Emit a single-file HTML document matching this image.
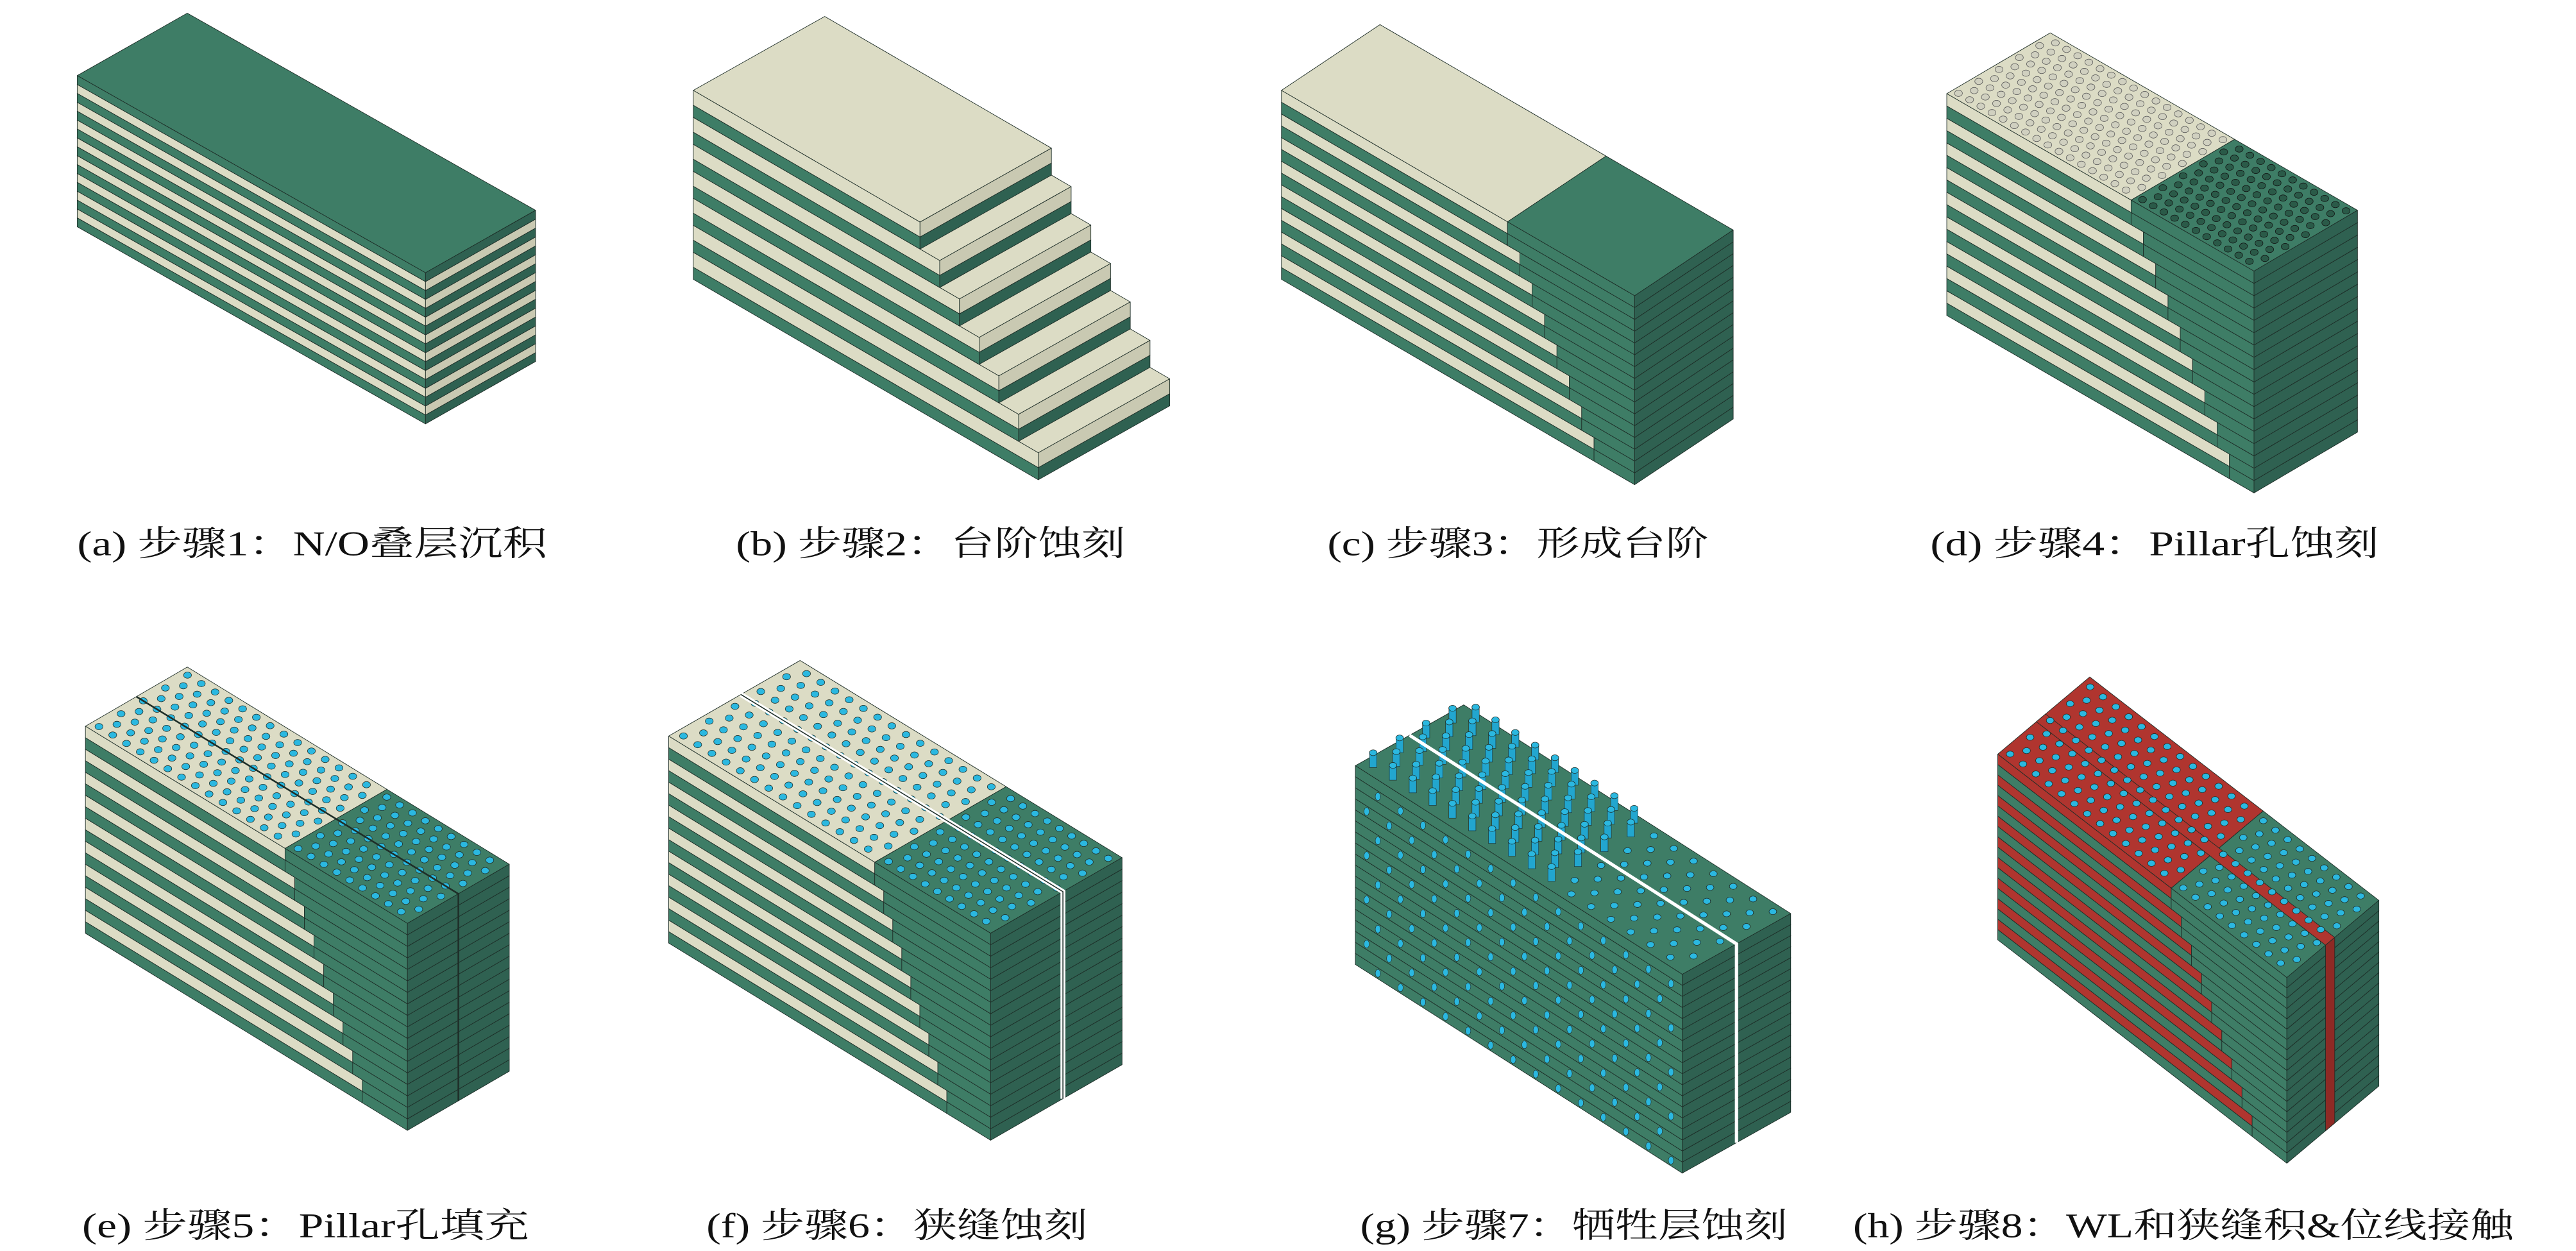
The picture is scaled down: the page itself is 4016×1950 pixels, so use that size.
<!DOCTYPE html>
<html><head><meta charset="utf-8">
<style>
html,body{margin:0;padding:0;background:#fff;}
svg{display:block;}
text{font-family:"Liberation Serif","Noto Serif CJK SC",serif;font-size:21px;fill:#111;}
</style></head>
<body>
<svg id="s" width="4016" height="1950" viewBox="0 0 1568 761.4" preserveAspectRatio="none" xmlns="http://www.w3.org/2000/svg">
<rect width="1568" height="761.4" fill="#fff"/>
<g id="g"></g>
<text x="47" y="338" textLength="286" lengthAdjust="spacingAndGlyphs">(a) 步骤1：N/O叠层沉积</text>
<text x="448" y="338" textLength="237" lengthAdjust="spacingAndGlyphs">(b) 步骤2：台阶蚀刻</text>
<text x="808" y="338" textLength="232" lengthAdjust="spacingAndGlyphs">(c) 步骤3：形成台阶</text>
<text x="1175" y="338" textLength="273" lengthAdjust="spacingAndGlyphs">(d) 步骤4：Pillar孔蚀刻</text>
<text x="50" y="753" textLength="272" lengthAdjust="spacingAndGlyphs">(e) 步骤5：Pillar孔填充</text>
<text x="430" y="753" textLength="232" lengthAdjust="spacingAndGlyphs">(f) 步骤6：狭缝蚀刻</text>
<text x="828" y="753" textLength="260" lengthAdjust="spacingAndGlyphs">(g) 步骤7：牺牲层蚀刻</text>
<text x="1128" y="753" textLength="402" lengthAdjust="spacingAndGlyphs">(h) 步骤8：WL和狭缝积&amp;位线接触</text>
</svg>
<script>
var G=document.getElementById('g'),NS='http://www.w3.org/2000/svg';
var GR='#3e7d66',CR='#dcdcc5',RD='#b0352f',GRD='#2f6151',CRD='#c9c9b2',RDD='#8e2a25',CY='#2bb8e0';
function el(n,a){var e=document.createElementNS(NS,n);for(var k in a)e.setAttribute(k,a[k]);G.appendChild(e);return e;}
function poly(pts,f,sw){el('polygon',{points:pts.map(function(p){return p[0].toFixed(2)+','+p[1].toFixed(2)}).join(' '),fill:f,stroke:'#1e2e28','stroke-width':sw==null?0.35:sw,'stroke-linejoin':'round'});}
function P(p,u,v,h){return [p.x+u*p.lx+v*p.dx,p.y+u*p.ly+v*p.dy+h];}
function dk(c){return c==GR?GRD:c==CR?CRD:c==RD?RDD:c;}
function layer(p,h0,t,len,split,c,topc,showTop){
 if(showTop!==false){
  var s=Math.min(split,len);
  if(s>0)poly([P(p,0,0,h0),P(p,s,0,h0),P(p,s,1,h0),P(p,0,1,h0)],topc);
  if(s<len)poly([P(p,s,0,h0),P(p,len,0,h0),P(p,len,1,h0),P(p,s,1,h0)],GR);
 }
 var s2=Math.min(split,len);
 if(s2>0)poly([P(p,0,0,h0),P(p,s2,0,h0),P(p,s2,0,h0+t),P(p,0,0,h0+t)],c);
 if(s2<len)poly([P(p,s2,0,h0),P(p,len,0,h0),P(p,len,0,h0+t),P(p,s2,0,h0+t)],GR);
 var rc=split>=len?dk(c):GRD;
 poly([P(p,len,0,h0),P(p,len,1,h0),P(p,len,1,h0+t),P(p,len,0,h0+t)],rc);
}
function stack(p,layers){ // layers top->bottom: {t,len,split,c,top}
 var hs=[],h=0;layers.forEach(function(L){hs.push(h);h+=L.t;});
 for(var i=layers.length-1;i>=0;i--){var L=layers[i];layer(p,hs[i],L.t,L.len,L.split,L.c,L.top||L.c,true);}
}
function dots(p,u0,u1,col,r,nu,nv,stroke){
 for(var i=0;i<nu;i++)for(var j=0;j<nv;j++){
  var u=u0+(u1-u0)*(i+0.5+(j%2)*0.5)/(nu+0.5),v=(j+0.6)/(nv+0.2);
  if(u>u1)continue;var q=P(p,u,v,0);
  el('ellipse',{cx:q[0],cy:q[1],rx:r,ry:r*0.8,fill:col,stroke:stroke||'#1e2e28','stroke-width':0.3});
 }
}
/* (a) */
(function(){var p={x:47,y:46,lx:212,ly:120,dx:67,dy:-38};var Ls=[];var n=17,t=92/n;
 for(var i=0;i<n;i++)Ls.push({t:t,len:1,split:1,c:i%2?CR:GR});stack(p,Ls);})();
/* (b) */
(function(){var p={x:422,y:55,lx:210,ly:122,dx:80,dy:-45};var Ls=[];var n=7,t=115/n;
 for(var k=0;k<n;k++){var len=(138+12*k)/210;Ls.push({t:t*0.55,len:len,split:1,c:CR});Ls.push({t:t*0.45,len:len,split:1,c:GR});}
 stack(p,Ls);})();
/* (c) */
(function(){var p={x:780,y:55,lx:215,ly:125,dx:60,dy:-40};var Ls=[];var n=16,t=115/n;
 for(var i=0;i<n;i++){var k=Math.floor(i/2);Ls.push({t:t,len:1,split:0.64+k*0.035,c:i%2?GR:CR,top:CR});}
 stack(p,Ls);})();
/* (d) */
(function(){var p={x:1185,y:57,lx:187,ly:108,dx:63,dy:-37};var Ls=[];var n=18,t=135/n;
 for(var i=0;i<n;i++){var k=Math.floor(i/2);Ls.push({t:t,len:1,split:0.6+k*0.04,c:i%2?GR:CR,top:CR});}
 stack(p,Ls);dots(p,0,0.6,'#d0d0c0',2.4,16,10,'#555');dots(p,0.6,1,'#2a5a48',2.4,11,10,'#111');})();
/* (e) */
(function(){var p={x:52,y:442,lx:196,ly:120,dx:62,dy:-36};var Ls=[];var n=18,t=126/n;
 for(var i=0;i<n;i++){var k=Math.floor(i/2);Ls.push({t:t,len:1,split:0.62+k*0.03,c:i%2?GR:CR,top:CR});}
 stack(p,Ls);dots(p,0,0.62,CY,2.4,14,9);dots(p,0.62,1,CY,2.4,9,9);
 var a=P(p,0,0.5,0),b=P(p,1,0.5,0),c=P(p,1,0.5,126);el('polyline',{points:a+' '+b+' '+c,fill:'none',stroke:'#1e2e28','stroke-width':1});})();
/* (f) */
(function(){var p={x:407,y:448,lx:196,ly:120,dx:80,dy:-46};var Ls=[];var n=18,t=126/n;
 for(var i=0;i<n;i++){var k=Math.floor(i/2);Ls.push({t:t,len:1,split:0.64+k*0.028,c:i%2?GR:CR,top:CR});}
 stack(p,Ls);dots(p,0,0.64,CY,2.4,14,10);dots(p,0.64,1,CY,2.4,9,10);
 var a=P(p,0,0.55,0),b=P(p,1,0.55,0),c=P(p,1,0.55,126);el('polyline',{points:a+' '+b+' '+c,fill:'none',stroke:'#fff','stroke-width':3});
 el('polyline',{points:a+' '+b+' '+c,fill:'none',stroke:'#1e2e28','stroke-width':0.6});})();
/* (g) */
(function(){var p={x:825,y:466,lx:199,ly:127,dx:66,dy:-37};var Ls=[];var n=18,t=121/n;
 for(var i=0;i<n;i++)Ls.push({t:t,len:1,split:1,c:GR});stack(p,Ls);
 // side dots
 for(var i=1;i<n;i+=2)for(var j=0;j<14;j++){var q=P(p,(j+0.5+(i%4==1?0.5:0))/14.5,0,i*t+t/2);if(q[0]<p.x+p.lx)el('ellipse',{cx:q[0],cy:q[1],rx:1.6,ry:2.4,fill:CY,stroke:'#1e2e28','stroke-width':0.25});}
 // pillars on top
 var nu=16,nv=8;for(var i=0;i<nu;i++)for(var j=nv-1;j>=0;j--){var u=(i+0.5+(j%2)*0.5)/(nu+0.5),v=(j+0.6)/(nv+0.2);var q=P(p,u,v,0);
  var hh=u<0.6?9:0;
  if(hh){el('rect',{x:q[0]-2.2,y:q[1]-hh,width:4.4,height:hh,fill:'#22a6cf',stroke:'#1e2e28','stroke-width':0.25});}
  el('ellipse',{cx:q[0],cy:q[1]-hh,rx:2.3,ry:1.8,fill:CY,stroke:'#1e2e28','stroke-width':0.3});}
 var a=P(p,0,0.5,0),b=P(p,1,0.5,0),c=P(p,1,0.5,121);el('polyline',{points:a+' '+b+' '+c,fill:'none',stroke:'#fff','stroke-width':2});})();
/* (h) */
(function(){var p={x:1216,y:459,lx:176,ly:136,dx:56,dy:-47};var Ls=[];var n=18,t=113/n;
 for(var i=0;i<n;i++){var k=Math.floor(i/2);Ls.push({t:t,len:1,split:0.6+k*0.035,c:i%2?GR:RD,top:RD});}
 stack(p,Ls);
 // red slit
 var v0=0.42,v1=0.52;poly([P(p,0,v0,0),P(p,1,v0,0),P(p,1,v1,0),P(p,0,v1,0)],RD);
 poly([P(p,1,v0,0),P(p,1,v1,0),P(p,1,v1,113),P(p,1,v0,113)],RDD);
 dots(p,0,0.6,CY,2.3,13,9);dots(p,0.6,1,CY,2.3,9,9);})();
</script>
</body></html>
